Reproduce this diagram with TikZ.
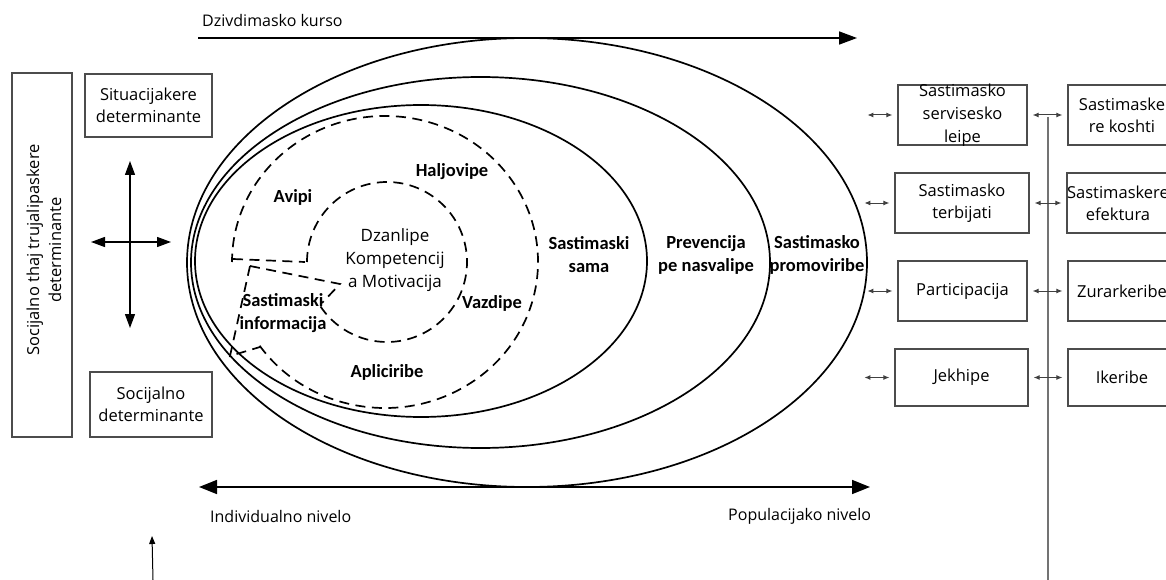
\documentclass[tikz,border=0pt]{standalone}
\usepackage{fontspec}
\setmainfont{Open Sans}
\newfontfamily\labfont{Carlito}
\usetikzlibrary{arrows.meta}
\begin{document}
\begin{tikzpicture}[x=1pt,y=-1pt,
  ell/.style={line width=1.7pt},
  dsh/.style={line width=1.7pt, dash pattern=on 10pt off 6.5pt},
  boxs/.style={draw=black!70, line width=1.2pt, inner sep=0pt, font=\fontsize{16.5}{22}\selectfont, align=center},
  lbl/.style={font=\labfont\bfseries\fontsize{18.5}{23}\selectfont, align=center, inner sep=0pt},
  ctext/.style={font=\fontsize{17}{23}\selectfont, align=center, inner sep=0pt},
  axtext/.style={font=\fontsize{16}{18}\selectfont, inner sep=0pt, anchor=west},
  bigarr/.style={line width=1.6pt, -{Triangle[length=18pt,width=13pt]}},
  bigdbl/.style={line width=1.6pt, {Triangle[length=18pt,width=14pt]}-{Triangle[length=18pt,width=14pt]}},
  crossarr/.style={line width=1.3pt, {Triangle[length=14pt,width=10pt]}-{Triangle[length=14pt,width=10pt]}},
  sarr/.style={line width=1pt, draw=black!75, {Latex[length=6pt,width=5pt]}-{Latex[length=6pt,width=5pt]}},
  thinup/.style={line width=1pt, -{Triangle[length=8pt,width=6pt]}}
]
\path[use as bounding box] (0,0) rectangle (1166,580);
\clip (0,0) rectangle (1166,580);

% top and bottom axes
\coordinate (ta) at (198,38);
\coordinate (tb) at (857,38);
\draw[bigarr] (ta) -- (tb);
\node[axtext] (dk) at (202,21) {Dzivdimasko kurso};
\coordinate (ba) at (199,487);
\coordinate (bb) at (870,487);
\draw[bigdbl] (ba) -- (bb);
\node[axtext] (in) at (210,516) {Individualno nivelo};
\node[axtext] (pn) at (728,516) {Populacijako nivelo};

% bottom-left small arrow
\coordinate (ua) at (153,580);
\coordinate (ub) at (152,536);
\draw[thinup] (ua) -- (ub);

% solid ellipses
\draw[ell] (527,262.5) ellipse [x radius=340pt, y radius=224.5pt];
\draw[ell] (480.5,262.5) ellipse [x radius=289.5pt, y radius=185.5pt];
\draw[ell] (421,261) ellipse [x radius=226pt, y radius=156pt];

% dashed structure
\draw[dsh] (385,262) ++(145:153 and 146) arc[start angle=145, end angle=-180, x radius=153, y radius=146];
\draw[dsh] (387,262) ++(180:80) arc[start angle=-180, end angle=148, radius=80];
\coordinate (h1) at (233,259);
\coordinate (h2) at (305,262);
\draw[dsh] (h1) -- (h2);
\coordinate (w1) at (250,266);
\coordinate (w2) at (340,284);
\coordinate (w3) at (322,303);
\draw[dsh] (w1) -- (w2) -- (w3);
\coordinate (v1) at (230,356);
\coordinate (v2) at (260,347);
\draw[dsh] (w1) -- (v1) -- (v2);

% labels in ellipses
\node[lbl] (avipi) at (293,197) {Avipi};
\node[lbl] (halj) at (452,172) {Haljovipe};
\node[lbl] (vazd) at (492,303) {Vazdipe};
\node[lbl] (apli) at (387,372) {Apliciribe};
\node[lbl] (sinf) at (283,313) {Sastimaski\\informacija};
\node[ctext] (dkm) at (395,260) {Dzanlipe\\Kompetencij\\a Motivacija};
\node[lbl] (ssama) at (589,255) {Sastimaski\\sama};
\node[lbl] (prev) at (706,255) {Prevencija\\pe nasvalipe};
\node[lbl] (promo) at (817,255) {Sastimasko\\promoviribe};

% left side
\node[boxs, minimum width=60pt, minimum height=364pt] (tall) at (42,255) {};
\node[font=\fontsize{16.5}{22}\selectfont, align=center, rotate=90, inner sep=0pt] (tallt) at (44,250) {Socijalno thaj trujalipaskere\\determinante};
\node[boxs, minimum width=127pt, minimum height=63pt] (sit) at (148.5,105.5) {Situacijakere\\determinante};
\node[boxs, minimum width=122pt, minimum height=65pt] (soc) at (151,404.5) {Socijalno\\determinante};
\coordinate (cl) at (91,242);
\coordinate (cr) at (171,242);
\coordinate (ct) at (130,161);
\coordinate (cb) at (130,328);
\draw[crossarr] (cl) -- (cr);
\draw[crossarr] (ct) -- (cb);

% right side
\coordinate (vtop) at (1048,117);
\coordinate (vbot) at (1048,580);
\draw[line width=1.3pt, draw=black!55] (vtop) -- (vbot);

\node[boxs, minimum width=129pt, minimum height=60pt] (r1) at (962.5,115) {};
\node[ctext, font=\fontsize{16.5}{23}\selectfont] (r1t) at (962.5,115) {Sastimasko\\servisesko\\leipe};
\node[boxs, minimum width=108pt, minimum height=60pt] (r2) at (1122,115) {Sastimaske\\re koshti};
\node[boxs, minimum width=134pt, minimum height=60pt] (r3) at (962,203) {Sastimasko\\terbijati};
\node[boxs, minimum width=102pt, minimum height=60pt] (r4) at (1118,203) {Sastimaskere\\efektura};
\node[boxs, minimum width=129pt, minimum height=60pt] (r5) at (962.5,291) {Participacija};
\node[boxs, minimum width=108pt, minimum height=60pt] (r6) at (1122,291) {Zurarkeribe};
\node[boxs, minimum width=133pt, minimum height=57pt] (r7) at (961.5,377.5) {Jekhipe};
\node[boxs, minimum width=108pt, minimum height=57pt] (r8) at (1122,377.5) {Ikeribe};

\foreach \b in {r1,r3,r5,r7}{
  \draw[sarr] ([xshift=-30pt]\b.west |- \b.center) -- ([xshift=-5pt]\b.west |- \b.center);
}
\draw[sarr] ([xshift=5pt]r1.east) -- ([xshift=-5pt]r2.west);
\draw[sarr] ([xshift=5pt]r3.east) -- ([xshift=-5pt]r4.west);
\draw[sarr] ([xshift=5pt]r5.east) -- ([xshift=-5pt]r6.west);
\draw[sarr] ([xshift=5pt]r7.east) -- ([xshift=-5pt]r8.west);
\end{tikzpicture}
\end{document}
